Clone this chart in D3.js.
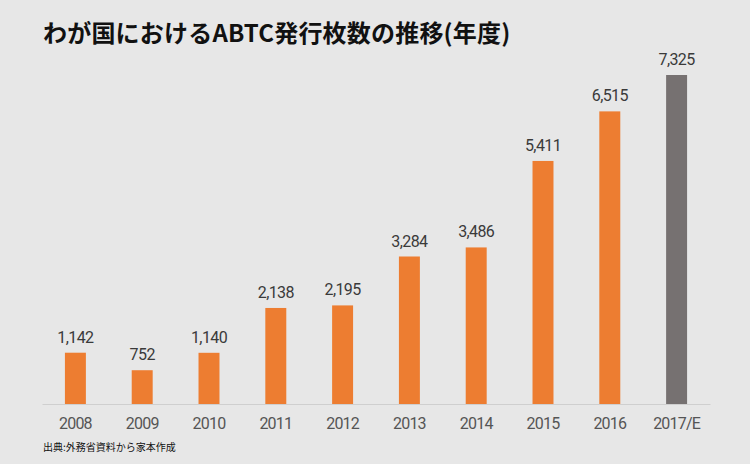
<!DOCTYPE html>
<html><head><meta charset="utf-8">
<script src="https://cdn.jsdelivr.net/npm/d3@7"></script>
<style>
html,body{margin:0;padding:0;background:#e7e7e7;}
svg{display:block;}
</style></head>
<body>
<svg id="chart" width="750" height="464"></svg>
<script>
const categories = ["2008","2009","2010","2011","2012","2013","2014","2015","2016","2017/E"];
const values = [1142, 752, 1140, 2138, 2195, 3284, 3486, 5411, 6515, 7325];
const estimated = [false,false,false,false,false,false,false,false,false,true];
const title = "わが国におけるABTC発行枚数の推移(年度)";
const source = "出典:外務省資料から家本作成";

const svg = d3.select("#chart");
svg.append("rect").attr("width",750).attr("height",464).attr("fill","#e7e7e7");

const x = d3.scaleBand().domain(categories).range([42, 710]).paddingInner(0.686).paddingOuter(0.343);
const y = d3.scaleLinear().domain([0, 7325]).range([404, 75]);

svg.append("text").attr("x",43).attr("y",42)
  .attr("font-family","'Noto Sans CJK JP', sans-serif").attr("font-weight","bold")
  .attr("font-size",24).attr("letter-spacing",0.2).attr("fill","#111").text(title);

svg.selectAll("rect.bar").data(values).enter().append("rect").attr("class","bar")
  .attr("x",(d,i)=>x(categories[i])).attr("width",x.bandwidth())
  .attr("y",d=>y(d)).attr("height",d=>y(0)-y(d))
  .attr("fill",(d,i)=>estimated[i]?"#767171":"#ed7d31");

svg.selectAll("text.val").data(values).enter().append("text").attr("class","val")
  .attr("x",(d,i)=>x(categories[i])+x.bandwidth()/2).attr("y",d=>y(d)-10)
  .attr("text-anchor","middle").attr("font-family","Roboto, sans-serif")
  .attr("font-size",16).attr("letter-spacing",-0.6).attr("fill","#3a3a3a").text(d=>d3.format(",")(d));

const axis = d3.axisBottom(x).tickSize(0).tickPadding(14);
const g = svg.append("g").attr("transform",`translate(0,${y(0)})`).call(axis);
g.select(".domain").attr("stroke","#cfcfcf").attr("stroke-width",1);
g.selectAll("text").attr("font-family","Roboto, sans-serif").attr("font-size",16)
  .attr("letter-spacing",-0.8).attr("fill","#555");

svg.append("text").attr("x",43).attr("y",451)
  .attr("font-family","'Noto Sans CJK JP', sans-serif").attr("font-size",10)
  .attr("fill","#111").text(source);
</script>
</body></html>
